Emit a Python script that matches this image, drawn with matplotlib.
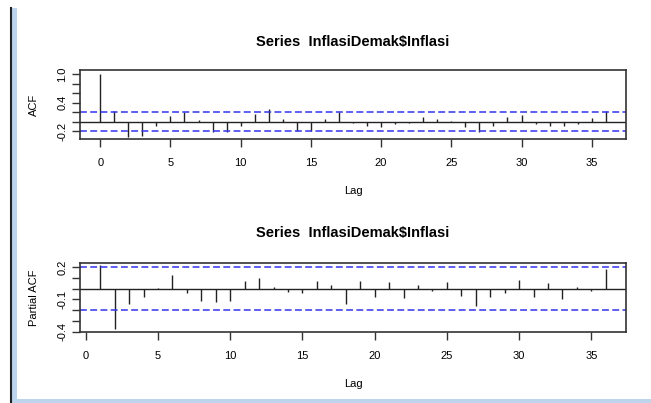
import numpy as np
import matplotlib
matplotlib.use("Agg")
import matplotlib.pyplot as plt
from matplotlib.patches import Rectangle
from matplotlib.lines import Line2D

# ACF / PACF values
acf_lags = list(range(0, 37))
acf_vals = [1.00, 0.23, -0.33, -0.29, -0.08, 0.12, 0.20, 0.03, -0.21, -0.21,
            -0.10, 0.16, 0.26, 0.06, -0.20, -0.20, 0.06, 0.20, -0.03, -0.08,
            -0.11, -0.05, -0.03, 0.09, 0.05, 0.01, -0.11, -0.21, -0.08, 0.09,
            0.14, -0.05, -0.10, -0.10, -0.04, 0.07, 0.22]
pacf_lags = list(range(1, 37))
pacf_vals = [0.22, -0.378, -0.14, -0.074, 0.005, 0.124, -0.043, -0.11, -0.124, -0.11,
             0.07, 0.10, 0.015, -0.034, -0.043, 0.07, 0.035, -0.14, 0.07, -0.074,
             0.062, -0.084, 0.034, -0.025, 0.062, -0.065, -0.164, -0.074, -0.037, 0.08,
             -0.074, 0.05, -0.096, 0.012, -0.019, 0.183]
conf = 0.2
title = "Series  InflasiDemak$Inflasi"
xticks = [0, 5, 10, 15, 20, 25, 30, 35]

plt.rcParams['font.family'] = ['Liberation Sans', 'DejaVu Sans']
W, H = 651, 403
fig = plt.figure(figsize=(W / 100, H / 100), dpi=100)

# window frame decoration (left bar and bottom band)
fig.patches.append(Rectangle((11 / W, 0), 6 / W, 1 - 8 / H, transform=fig.transFigure,
                             facecolor='#bcd4ec', edgecolor='none'))
fig.patches.append(Rectangle((11 / W, 0), 640 / W, 4 / H, transform=fig.transFigure,
                             facecolor='#bcd4ec', edgecolor='none'))
fig.lines.append(Line2D([11 / W, 11 / W], [0, 1 - 8 / H], transform=fig.transFigure,
                        color='#222222', lw=1.5))

edge = '#333333'


def acf_panel(rect, lags, vals, xlim, ylim, yticks, ylabels, ylab, tpad):
    ax = fig.add_axes(rect)
    ax.vlines(lags, 0, vals, color='#222222', lw=1.0)
    ax.axhline(0, color='#222222', lw=1.0)
    for c in (conf, -conf):
        ax.axhline(c, color='#3333ee', lw=1.1, dashes=(4.5, 2.2))
    ax.set_xlim(xlim)
    ax.set_ylim(ylim)
    ax.set_xticks(xticks)
    ax.set_xticklabels([str(t) for t in xticks], fontsize=8)
    ax.set_yticks(yticks)
    ax.set_yticklabels(ylabels, fontsize=8, rotation=90, va='center')
    ax.tick_params(length=6, width=1, color=edge, pad=3)
    ax.tick_params(axis='x', pad=8)
    for s in ax.spines.values():
        s.set_color(edge)
        s.set_linewidth(1.2)
    ax.set_xlabel("Lag", fontsize=8, labelpad=13)
    ax.set_ylabel(ylab, fontsize=8, labelpad=13)
    ax.set_title(title, fontsize=10.5, fontweight='bold', pad=tpad)
    return ax


acf_panel([80 / W, 1 - 139 / H, 546 / W, 69 / H], acf_lags, acf_vals,
          (-1.44, 37.44), (-0.363, 1.084),
          [-0.2, 0.0, 0.2, 0.4, 0.6, 0.8, 1.0],
          ['-0.2', '', '', '0.4', '', '', '1.0'], 'ACF', 17)
acf_panel([80 / W, 1 - 331.7 / H, 546 / W, 68.4 / H], pacf_lags, pacf_vals,
          (-0.4, 37.4), (-0.4, 0.237),
          [-0.4, -0.3, -0.2, -0.1, 0.0, 0.1, 0.2],
          ['-0.4', '', '', '-0.1', '', '', '0.2'], 'Partial ACF', 19)

fig.savefig("out.png", dpi=100)
